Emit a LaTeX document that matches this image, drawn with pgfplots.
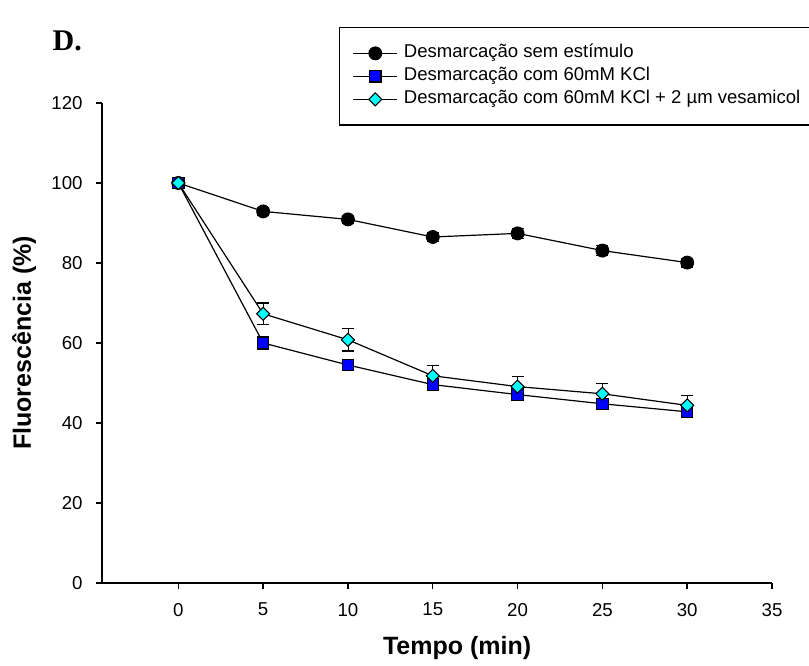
\documentclass[border=0pt]{standalone}
\usepackage{fontspec}
\setmainfont{Liberation Sans}
\newfontfamily\timesfont{Liberation Serif}
\usepackage{pgfplots}
\pgfplotsset{compat=1.18}
\definecolor{mycyan}{RGB}{0,255,255}
\definecolor{myblue}{RGB}{0,0,255}

\begin{document}
\begin{tikzpicture}
\useasboundingbox (-76.5pt,-62.25pt) rectangle (530.25pt,437.25pt);
\begin{axis}[
  scale only axis, width=502.5pt, height=360pt,
  xmin=-4.5, xmax=35, ymin=0, ymax=120,
  clip=false,
  axis x line=bottom, axis y line=left,
  axis line style={-, line width=1.2pt},
  xtick={0,5,...,35}, ytick={0,20,...,120},
  tick align=outside, major tick length=4.5pt,
  tick style={line width=1.1pt, black},
  ticklabel style={font=\fontsize{14}{16}\selectfont},
  /pgf/number format/assume math mode=true,
  xticklabel style={yshift=-7pt},
  yticklabel style={xshift=-6.5pt},
  xlabel={Tempo (min)}, ylabel={Fluorescência (\%)},
  label style={font=\fontsize{18.75}{22}\selectfont\bfseries},
  xlabel style={at={(axis description cs:0.53,0)}, anchor=base, yshift=-54pt},
  ylabel style={at={(axis description cs:-0.106,0.5)}, anchor=base},
  legend cell align=left,
  legend style={at={(axis description cs:0.354,1.158)}, anchor=north west,
    draw=black, line width=0.8pt, font=\fontsize{13.9}{16}\selectfont,
    inner xsep=9.75pt, inner ysep=13pt, row sep=4.75pt, column sep=4.5pt,
    nodes={inner sep=0pt, text height=9.5pt, text depth=3pt}},
  legend image code/.code={\draw[mark repeat=2,mark phase=2,#1] plot coordinates {(0pt,0pt) (16.5pt,0pt) (33pt,0pt)};},
  error bars/error mark=|,
]
\addplot[black, line width=0.9pt, mark=*, mark size=4.75pt, mark options={fill=black, draw=black},
  error bars/.cd, y dir=both, y explicit,
  error mark options={black, line width=0.9pt, mark size=4.5pt}]
  table[x=x, y=y, y error=e] {
x y e
0 100 0
5 92.9 0.9
10 90.9 1.0
15 86.5 1.2
20 87.4 1.2
25 83.1 1.3
30 80.1 1.1
};
\addlegendentry{Desmarcação sem estímulo}
\addplot[black, line width=0.9pt, mark=square*, mark size=4.25pt, mark options={fill=myblue, draw=black, line width=0.8pt},
  error bars/.cd, y dir=both, y explicit,
  error mark options={black, line width=0.9pt, mark size=4.5pt}]
  table[x=x, y=y, y error=e] {
x y e
0 100 0
5 60.0 1.5
10 54.5 1.2
15 49.6 1.3
20 47.1 1.2
25 44.8 1.2
30 42.8 1.3
};
\addlegendentry{Desmarcação com 60mM KCl}
\addplot[black, line width=0.9pt, mark=square*, mark size=3.45pt, mark options={fill=mycyan, draw=black, rotate=45, line width=0.8pt},
  error bars/.cd, y dir=both, y explicit,
  error mark options={black, line width=0.9pt, mark size=4.5pt}]
  table[x=x, y=y, y error=e] {
x y e
0 100 0
5 67.3 2.7
10 60.8 2.8
15 51.8 2.6
20 49.1 2.5
25 47.3 2.6
30 44.4 2.5
};
\addlegendentry{Desmarcação com 60mM KCl + 2 µm vesamicol}
\node[anchor=base west, font=\timesfont\bfseries\fontsize{22.5}{26}\selectfont] at (axis description cs:-0.0806,1.110) {D.};
\end{axis}
\end{tikzpicture}
\end{document}
